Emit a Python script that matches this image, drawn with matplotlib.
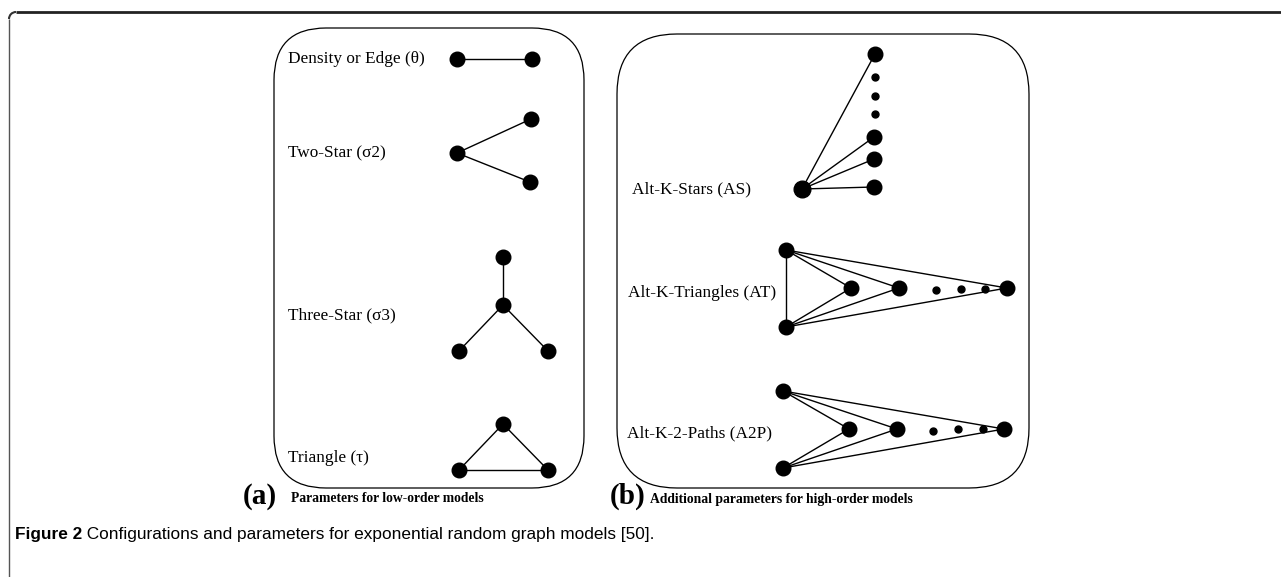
import matplotlib
matplotlib.use("Agg")
import matplotlib.pyplot as plt
from matplotlib.patches import FancyBboxPatch, Arc

# ---- data: configuration labels and node positions ----
labels_a = ["Density or Edge (θ)", "Two-Star (σ2)", "Three-Star (σ3)", "Triangle (τ)"]
label_a_y = [59, 153, 315, 458]
labels_b = ["Alt-K-Stars (AS)", "Alt-K-Triangles (AT)", "Alt-K-2-Paths (A2P)"]
label_b_x = [632, 628, 627]
label_b_y = [189, 293, 433]

edge_nodes = [(457, 59), (532, 59)]
twostar_center = (457, 153)
twostar_leaves = [(531, 119), (530, 182)]
threestar_center = (503, 305)
threestar_leaves = [(503, 257), (459, 351), (548, 351)]
triangle_nodes = [(503, 424), (459, 470), (548, 470)]

as_center = (802, 189)
as_leaves = [(875, 54), (874, 137), (874, 159), (874, 187)]
as_dots = [(875, 77), (875, 96), (875, 114)]

at_base = [(786, 250), (786, 327)]
at_mid = [(851, 288), (899, 288), (1007, 288)]
at_dots = [(936, 290), (961, 289), (985, 289)]

a2p_base = [(783, 391), (783, 468)]
a2p_mid = [(849, 429), (897, 429), (1004, 429)]
a2p_dots = [(933, 431), (958, 429), (983, 429)]

sub_a = ("(a)", "Parameters for low-order models")
sub_b = ("(b)", "Additional parameters for high-order models")
caption_bold = "Figure 2"
caption_rest = " Configurations and parameters for exponential random graph models [50]."

fig = plt.figure(figsize=(12.81, 5.77), dpi=100)
ax = fig.add_axes([0, 0, 1, 1])
ax.set_xlim(0, 1281)
ax.set_ylim(577, 0)
ax.axis("off")

LW = 1.0
NODE = 10.5
DOT = 5.0

def line(p, q):
    ax.plot([p[0], q[0]], [p[1], q[1]], color="black", lw=LW, zorder=2)

def nodes(pts, size=NODE):
    xs = [p[0] for p in pts]; ys = [p[1] for p in pts]
    ax.plot(xs, ys, "o", color="black", ms=size, mec="black", zorder=3, ls="none")

# outer frame: top and left with rounded corner
r = 7
ax.plot([9 + r, 1281], [12, 12], color="#222222", lw=2.0, solid_capstyle="butt")
ax.plot([9, 9], [12 + r, 577], color="#555555", lw=1.0, solid_capstyle="butt")
ax.add_patch(Arc((9 + r, 12 + r), 2 * r, 2 * r, theta1=180, theta2=270, color="#333333", lw=1.5))

# panel boxes
for (x0, y0, x1, y1, rs) in [(274, 28, 584, 488, 52), (617, 34, 1029, 488, 60)]:
    ax.add_patch(FancyBboxPatch((x0, y0), x1 - x0, y1 - y0,
                                boxstyle=f"round,pad=0,rounding_size={rs}",
                                fc="none", ec="black", lw=0.9, zorder=1))

serif = ["Liberation Serif", "DejaVu Serif"]
for t, y in zip(labels_a, label_a_y):
    ax.text(288, y, t, family=serif, fontsize=12.4, va="center", ha="left")
for t, x, y in zip(labels_b, label_b_x, label_b_y):
    ax.text(x, y, t, family=serif, fontsize=12.4, va="center", ha="left")

# edge
line(*edge_nodes); nodes(edge_nodes)
# two-star
for l in twostar_leaves:
    line(twostar_center, l)
nodes([twostar_center] + twostar_leaves)
# three-star
for l in threestar_leaves:
    line(threestar_center, l)
nodes([threestar_center] + threestar_leaves)
# triangle
for i in range(3):
    line(triangle_nodes[i], triangle_nodes[(i + 1) % 3])
nodes(triangle_nodes)

# alt-k-stars
for l in as_leaves:
    line(as_center, l)
nodes(as_leaves)
nodes([as_center], size=12)
nodes(as_dots, size=DOT)

# alt-k-triangles
line(at_base[0], at_base[1])
for b in at_base:
    for m in at_mid:
        line(b, m)
nodes(at_base + at_mid)
nodes(at_dots, size=DOT)

# alt-k-2-paths
for b in a2p_base:
    for m in a2p_mid:
        line(b, m)
nodes(a2p_base + a2p_mid)
nodes(a2p_dots, size=DOT)

# sub captions
ax.text(243, 496, sub_a[0], family=serif, fontsize=21, fontweight="bold", va="center", ha="left")
ax.text(291, 499, sub_a[1], family=serif, fontsize=9.8, fontweight="bold", va="center", ha="left")
ax.text(610, 496, sub_b[0], family=serif, fontsize=21, fontweight="bold", va="center", ha="left")
ax.text(650, 499, sub_b[1], family=serif, fontsize=9.8, fontweight="bold", va="center", ha="left")

# figure caption
sans = ["Liberation Sans Narrow", "Liberation Sans", "DejaVu Sans"]
tb = ax.text(15, 534, caption_bold, family=sans, fontsize=12.4, fontweight="bold", va="center", ha="left")
fig.canvas.draw()
bb = tb.get_window_extent()
x_end = ax.transData.inverted().transform((bb.x1, bb.y0))[0]
ax.text(x_end, 534, caption_rest, family=sans, fontsize=12.4, va="center", ha="left")

fig.savefig("out.png", dpi=100)
